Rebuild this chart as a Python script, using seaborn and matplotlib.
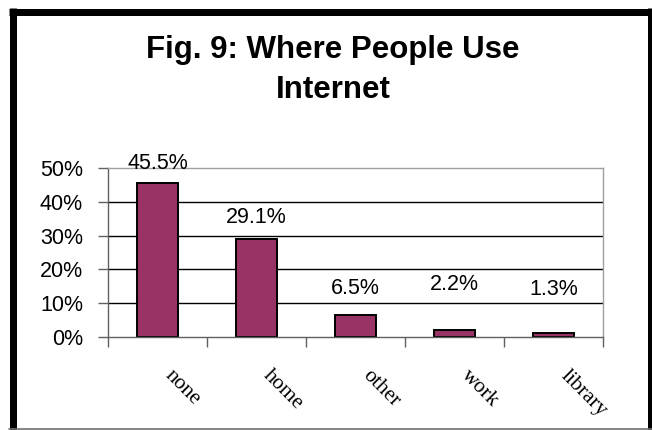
import matplotlib
matplotlib.use("Agg")
import matplotlib.pyplot as plt
from matplotlib.ticker import PercentFormatter, FixedLocator
from matplotlib.lines import Line2D
from matplotlib.transforms import ScaledTranslation
import seaborn as sns
import pandas as pd

# Share of respondents by place of internet use
places = ["none", "home", "other", "work", "library"]
shares = [45.5, 29.1, 6.5, 2.2, 1.3]
y_ticks = [0, 10, 20, 30, 40, 50]

# gap (pixels) between each bar top and the centre of its value label
label_gap_px = [20, 21, 27, 45, 43]

df = pd.DataFrame({"place": places, "share": shares})

sns.set_theme(style="white")
plt.rcParams["font.family"] = ["Liberation Sans", "DejaVu Sans"]

W, H = 652, 430
fig = plt.figure(figsize=(W / 100, H / 100), dpi=100)
ax = fig.add_axes([108 / W, (H - 337) / H, (603 - 108) / W, (337 - 168) / H])

sns.barplot(data=df, x="place", y="share", ax=ax, color="#993366",
            width=0.41, edgecolor="black", linewidth=1.4, saturation=1)

ax.set_xlim(-0.5, len(places) - 0.5)
ax.set_ylim(0, 50)
ax.yaxis.set_major_locator(FixedLocator(y_ticks))
ax.yaxis.set_major_formatter(PercentFormatter(100, decimals=0))
ax.set_xlabel("")
ax.set_ylabel("")

# horizontal gridlines
for v in y_ticks[1:-1]:
    ax.axhline(v, color="black", lw=1.0, zorder=0.5)

for side in ["top", "right"]:
    ax.spines[side].set_color("#a0a0a0")
    ax.spines[side].set_linewidth(1.0)
for side in ["left", "bottom"]:
    ax.spines[side].set_color("#606060")
    ax.spines[side].set_linewidth(1.0)

ax.tick_params(axis="y", which="major", length=7, width=1, color="#606060",
               direction="out", left=True, pad=11, labelsize=15.5,
               labelcolor="black")
# category separators below the axis
ax.set_xticks([i - 0.5 for i in range(len(places) + 1)], minor=True)
ax.tick_params(axis="x", which="minor", length=7, width=1, color="#606060",
               direction="out", bottom=True)
ax.tick_params(axis="x", which="major", length=0, pad=26)
ax.set_xticks(range(len(places)))
ax.set_xticklabels(places, rotation=-45, ha="left", va="center",
                   rotation_mode="anchor", family=["Liberation Serif"],
                   fontsize=15.5, color="black")
shift = ScaledTranslation(10 / 100, 0, fig.dpi_scale_trans)
for lab in ax.get_xticklabels():
    lab.set_transform(lab.get_transform() + shift)

# value labels above the bars
for i, (v, gap) in enumerate(zip(shares, label_gap_px)):
    ax.annotate(f"{v:.1f}%", (i, v), xytext=(0, gap * 0.72),
                textcoords="offset points", ha="center", va="center",
                fontsize=15.5, color="black", annotation_clip=False)

fig.text(333 / W, (H - 70) / H, "Fig. 9: Where People Use\nInternet",
         ha="center", va="center", fontsize=22.5, fontweight="bold",
         linespacing=1.42, color="black")

# chart frame
lw = 7 * 72 / 100
fig.add_artist(Line2D([12.5 / W, 12.5 / W], [0, (H - 8) / H],
                      transform=fig.transFigure, color="black", lw=lw,
                      solid_capstyle="butt"))
fig.add_artist(Line2D([9 / W, 1], [(H - 11.5) / H, (H - 11.5) / H],
                      transform=fig.transFigure, color="black", lw=lw,
                      solid_capstyle="butt"))
fig.add_artist(Line2D([650 / W, 650 / W], [0, (H - 8) / H],
                      transform=fig.transFigure, color="black", lw=5 * 72 / 100,
                      solid_capstyle="butt"))
fig.add_artist(Line2D([9 / W, 1], [1.2 / H, 1.2 / H],
                      transform=fig.transFigure, color="#707070", lw=1.2))

fig.savefig("out.png", dpi=100, facecolor="white")
